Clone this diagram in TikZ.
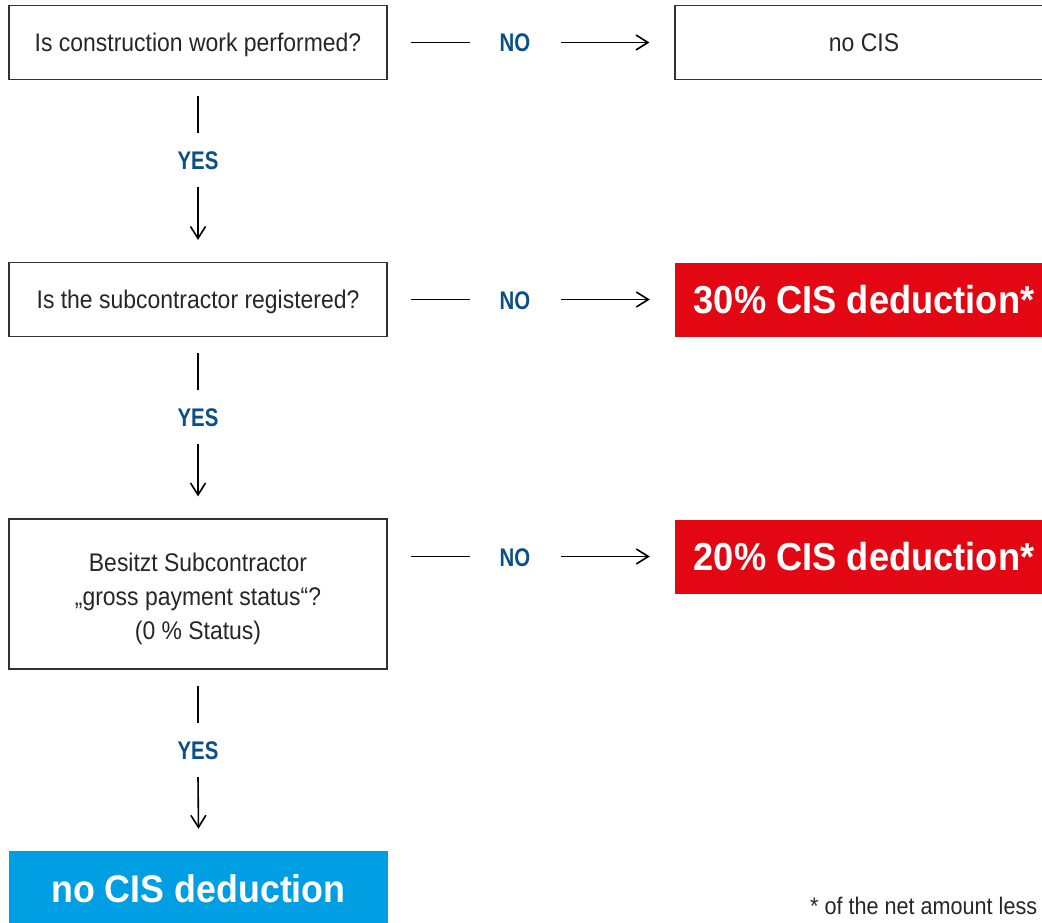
\documentclass[tikz,border=0pt]{standalone}
\usepackage{fontspec}
\setmainfont[FakeStretch=0.9]{Liberation Sans}
\newfontfamily\labfont[FakeStretch=0.8]{Liberation Sans}
\newfontfamily\bigfont[FakeStretch=0.93]{Liberation Sans}
\usetikzlibrary{arrows.meta}
\definecolor{lblblue}{HTML}{0A4F86}
\definecolor{cisred}{HTML}{E30613}
\definecolor{cisblue}{HTML}{009FE3}
\definecolor{boxline}{HTML}{333333}
\tikzset{
  qbox/.style={draw=boxline, line width=1.1pt, minimum width=378pt, minimum height=74pt,
    inner sep=0pt, align=center, font=\fontsize{25.5}{34}\selectfont, text=black!85,
    text height=18pt, text depth=0pt},
  redbox/.style={fill=cisred, minimum width=378pt, minimum height=74pt, inner sep=0pt,
    text=white, font=\bigfont\bfseries\fontsize{39}{40}\selectfont, text height=28pt, text depth=0pt},
  bluebox/.style={fill=cisblue, minimum width=379pt, minimum height=74pt, inner sep=0pt,
    text=white, font=\bigfont\bfseries\fontsize{38.5}{40}\selectfont, text height=28pt, text depth=0pt},
  lbl/.style={text=lblblue, font=\labfont\bfseries\fontsize{25.5}{27}\selectfont, inner sep=0pt,
    text height=19pt, text depth=0pt},
  conn/.style={line width=1.6pt, black},
  arr/.style={conn, -{Straight Barb[length=12pt,width=15pt,line width=1.6pt]}},
}
\begin{document}
\begin{tikzpicture}[x=1pt,y=-1pt]
\useasboundingbox (0,0) rectangle (1042,923);
\clip (0,0) rectangle (1042,923);
% left column
\node[qbox] (b1) at (198,42.5) {Is construction work performed?};
\node[qbox] (b2) at (198,299.5) {Is the subcontractor registered?};
\node[qbox, minimum height=150pt, text height=90pt, text depth=0pt] (b3) at (198,594) {Besitzt Subcontractor\\„gross payment status“?\\(0 \% Status)};
\node[bluebox] (b4) at (198.5,888) {no CIS deduction};
% right column
\node[qbox] (t1) at (864,42.5) {no CIS};
\node[redbox] (t2) at (864,299.5) {30\% CIS deduction*};
\node[redbox] (t3) at (864,556.5) {20\% CIS deduction*};
% NO labels
\node[lbl] (n1) at (515,42.5) {NO};
\node[lbl] (n2) at (515,299.5) {NO};
\node[lbl] (n3) at (515,556.5) {NO};
% YES labels
\node[lbl] (y1) at (198,160) {YES};
\node[lbl] (y2) at (198,417) {YES};
\node[lbl] (y3) at (198,750) {YES};
% horizontal connectors
\draw[conn] ([xshift=23pt]b1.east) -- ([xshift=-45pt]n1.center);
\draw[arr] ([xshift=46pt]n1.center) -- ([xshift=-25pt]t1.west);
\draw[conn] ([xshift=23pt]b2.east) -- ([xshift=-45pt]n2.center);
\draw[arr] ([xshift=46pt]n2.center) -- ([xshift=-25pt]t2.west);
\draw[conn] ([xshift=23pt]b3.east |- n3.center) -- ([xshift=-45pt]n3.center);
\draw[arr] ([xshift=46pt]n3.center) -- ([xshift=-25pt]t3.west);
% vertical connectors
\draw[conn] ([yshift=-16pt]b1.south) -- ([yshift=27pt]y1.center);
\draw[arr] ([yshift=-27pt]y1.center) -- ([yshift=22pt]b2.north);
\draw[conn] ([yshift=-16pt]b2.south) -- ([yshift=27pt]y2.center);
\draw[arr] ([yshift=-27pt]y2.center) -- ([yshift=22pt]b3.north);
\draw[conn] ([yshift=-16pt]b3.south) -- ([yshift=27pt]y3.center);
\draw[arr] ([yshift=-27pt]y3.center) -- ([yshift=22pt]b4.north);
% footnote
\node[anchor=base west, inner sep=0pt, font=\fontsize{24}{26}\selectfont, text=black!85] (fn) at (810,914) {* of the net amount less};
\end{tikzpicture}
\end{document}
